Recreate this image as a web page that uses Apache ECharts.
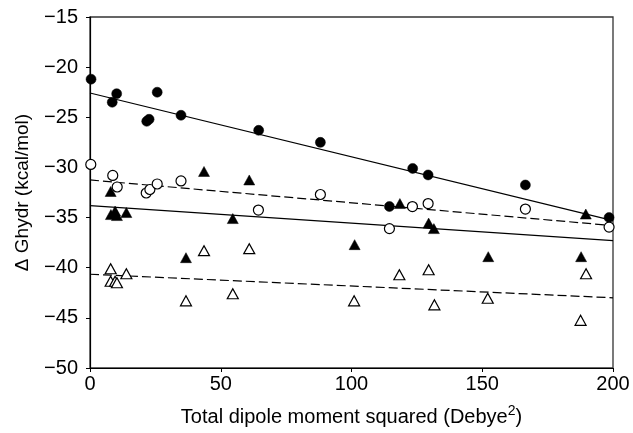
<!DOCTYPE html>
<html>
<head>
<meta charset="utf-8">
<script src="https://cdn.jsdelivr.net/npm/echarts@6/dist/echarts.min.js"></script>
<style>html,body{margin:0;padding:0;background:#fff}#c{width:633px;height:433px}</style>
</head>
<body>
<div id="c"></div>
<script>
// Filled circles
const filledCircleX = [0.4, 8.5, 10.2, 21.7, 22.6, 25.7, 34.8, 64.5, 88.1, 114.5, 123.4, 129.3, 166.5, 198.5];
const filledCircleY = [-21.2, -23.5, -22.65, -25.4, -25.2, -22.5, -24.8, -26.3, -27.5, -33.9, -30.1, -30.75, -31.75, -35.0];
// Open circles
const openCircleX = [0.3, 8.7, 10.4, 21.5, 22.9, 25.7, 34.8, 64.4, 88.1, 114.5, 123.3, 129.3, 166.5, 198.5];
const openCircleY = [-29.7, -30.8, -31.95, -32.55, -32.2, -31.65, -31.35, -34.25, -32.7, -36.1, -33.9, -33.6, -34.15, -35.95];
// Filled triangles
const filledTriX = [7.9, 8.0, 9.6, 10.3, 13.9, 36.7, 43.6, 54.6, 60.9, 101.2, 118.5, 129.5, 131.5, 152.3, 187.8, 189.6];
const filledTriY = [-32.4, -34.7, -34.35, -34.8, -34.5, -39.0, -30.4, -35.1, -31.25, -37.7, -33.6, -35.55, -36.1, -38.9, -38.9, -34.65];
// Open triangles
const openTriX = [7.9, 7.9, 9.6, 10.3, 13.9, 36.7, 43.6, 54.6, 60.9, 101.0, 118.3, 129.5, 131.7, 152.1, 187.6, 189.7];
const openTriY = [-40.1, -41.35, -41.35, -41.5, -40.6, -43.3, -38.3, -42.6, -38.1, -43.3, -40.7, -40.2, -43.7, -43.05, -45.25, -40.6];
// Fitted regression lines (end points)
const fitX = [0, 200];
const fitFilledCircleY = [-22.58, -35.3];
const fitOpenCircleY = [-31.25, -35.8];
const fitFilledTriY = [-33.8, -37.3];
const fitOpenTriY = [-40.65, -43.0];
// Axis ticks
const xTicks = [0, 50, 100, 150, 200];
const yTicks = [-50, -45, -40, -35, -30, -25, -20, -15];

const zip = (xs, ys) => xs.map((x, i) => [x, ys[i]]);
const FONT = 'Liberation Sans, Arial, sans-serif';

const chart = echarts.init(document.getElementById('c'), null, {renderer: 'canvas'});

function fitLine(ys, dashed) {
  return {
    type: 'line', data: zip(fitX, ys), symbol: 'none', silent: true, z: 2,
    lineStyle: {color: '#000', width: 1.2, type: dashed ? [9, 4] : 'solid'}
  };
}
function scatter(xs, ys, symbol, filled) {
  return {
    type: 'scatter', data: zip(xs, ys), symbol: symbol,
    symbolSize: symbol === 'circle' ? 10 : [11, 10], z: 5,
    itemStyle: filled ? {color: '#000', borderColor: '#000', borderWidth: 0.5, opacity: 1}
                      : {color: '#fff', borderColor: '#000', borderWidth: 1.2, opacity: 1}
  };
}

chart.setOption({
  animation: false,
  backgroundColor: '#fff',
  grid: {left: 90, right: 20, top: 17, bottom: 65, show: true, borderColor: '#333', borderWidth: 1.3},
  xAxis: {
    type: 'value', min: xTicks[0], max: xTicks[xTicks.length - 1], interval: 50,
    name: '{a|Total dipole moment squared (Debye}{s|2}{a|)}',
    nameLocation: 'middle', nameGap: 36,
    nameTextStyle: {
      rich: {
        a: {fontFamily: FONT, fontSize: 20, color: '#000', verticalAlign: 'bottom', lineHeight: 23},
        s: {fontFamily: FONT, fontSize: 14, color: '#000', verticalAlign: 'top', lineHeight: 23}
      }
    },
    axisLine: {show: true, onZero: false, lineStyle: {color: '#000', width: 1.2}},
    axisTick: {show: true, length: 4, inside: false, lineStyle: {color: '#000'}},
    axisLabel: {fontFamily: FONT, fontSize: 20, color: '#000', margin: 6},
    splitLine: {show: false}
  },
  yAxis: {
    type: 'value', min: yTicks[0], max: yTicks[yTicks.length - 1], interval: 5,
    name: 'Δ Ghydr (kcal/mol)', nameLocation: 'middle', nameGap: 58, nameRotate: 90,
    nameTextStyle: {fontFamily: FONT, fontSize: 19, color: '#000'},
    axisLine: {show: true, onZero: false, lineStyle: {color: '#000', width: 1.2}},
    axisTick: {show: true, length: 4, inside: false, lineStyle: {color: '#000'}},
    axisLabel: {fontFamily: FONT, fontSize: 20, color: '#000', margin: 12,
      formatter: v => String(v).replace('-', '\u2212')},
    splitLine: {show: false}
  },
  series: [
    fitLine(fitFilledCircleY, false),
    fitLine(fitOpenCircleY, true),
    fitLine(fitFilledTriY, false),
    fitLine(fitOpenTriY, true),
    scatter(filledCircleX, filledCircleY, 'circle', true),
    scatter(openCircleX, openCircleY, 'circle', false),
    scatter(filledTriX, filledTriY, 'triangle', true),
    scatter(openTriX, openTriY, 'triangle', false)
  ]
});
</script>
</body>
</html>
